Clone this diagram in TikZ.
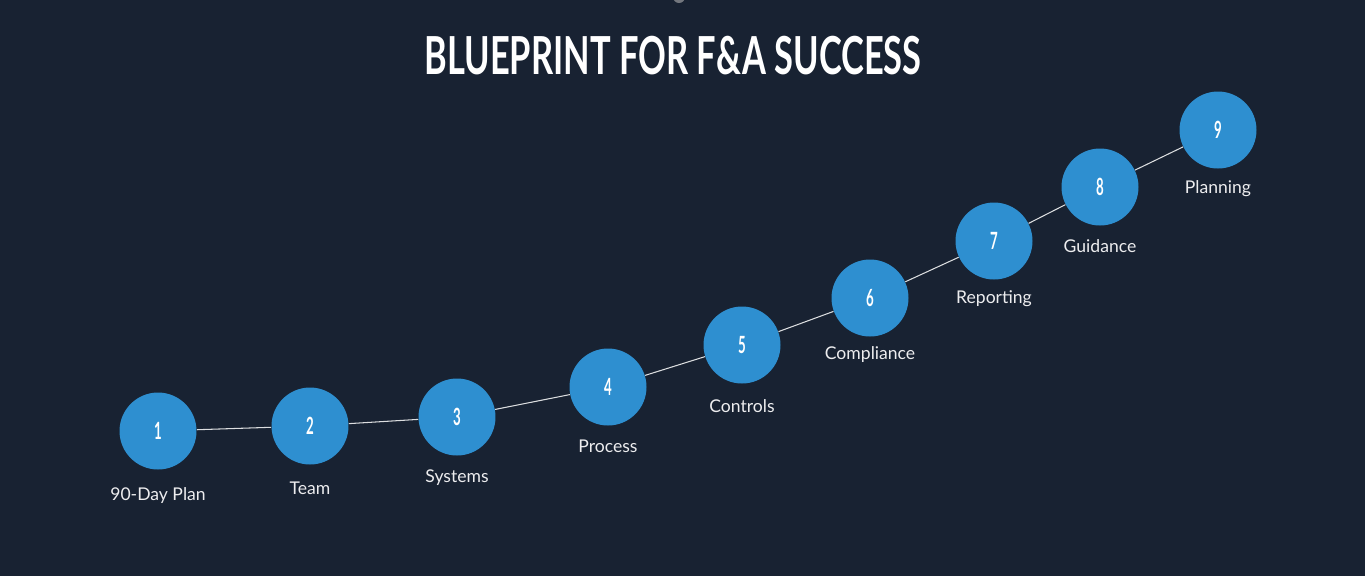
\documentclass[tikz,border=0pt]{standalone}
\usepackage{fontspec}
\setmainfont{Lato}
\usepackage{graphicx}
\usetikzlibrary{positioning}
\definecolor{bpnavy}{HTML}{182232}
\definecolor{bpblue}{HTML}{2E8FD0}
\definecolor{bpgrey}{HTML}{73777E}
\newcommand{\bpnum}[1]{\scalebox{0.56}[1]{\fontsize{13.5pt}{14pt}\selectfont\bfseries #1}}
\tikzset{
  bpstep/.style={circle, fill=bpblue, minimum size=1.54cm, inner sep=0pt, text=white},
  bplabel/.style={text=white!92!bpnavy, font=\fontsize{10pt}{12pt}\selectfont, inner sep=0pt},
  bplink/.style={white!85!bpnavy, line width=0.6pt},
  bptitle/.style={text=white, inner sep=0pt},
}

\begin{document}
\begin{tikzpicture}[x=0.02cm,y=-0.02cm]

  % page
  \clip (0,0) rectangle (1365,576);
  \fill[bpnavy] (0,0) rectangle (1365,576);
  \fill[bpgrey] (679,-3) circle (6);

  % title
  \node[bptitle] (title) at (673,56)
    {\resizebox{282.9pt}{21.8pt}{\bfseries BLUEPRINT FOR F\&A SUCCESS}};

  % steps along the curve
  \foreach \i/\x/\y/\d/\txt in {
      1/158/431/65/90-Day Plan,
      2/310/426/62/Team,
      3/457/417/61/Systems,
      4/608/387/59/Process,
      5/742/345/61/Controls,
      6/870/298/57/Compliance,
      7/994/241/58/Reporting,
      8/1100/187/59/Guidance,
      9/1218/130/59/Planning}
  {
    \node[bpstep] (s\i) at (\x,\y) {\bpnum{\i}};
    \node[bplabel] (l\i) at (\x,\y+\d) {\txt};
  }

  % thin connector
  \foreach \i [evaluate=\i as \j using int(\i+1)] in {1,...,8}
    \draw[bplink] (s\i) -- (s\j);

\end{tikzpicture}
\end{document}
